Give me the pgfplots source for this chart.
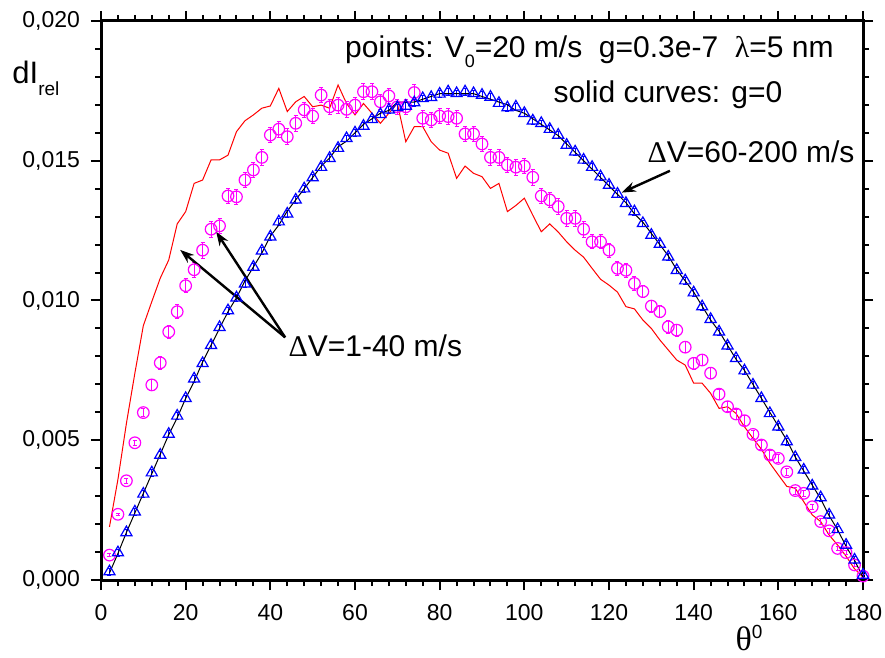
\documentclass[border=0pt]{standalone}
\usepackage{fontspec}
\setmainfont{Liberation Sans}
\newfontfamily\grk{Liberation Serif}
\usepackage{pgfplots}
\pgfplotsset{compat=1.18}
\usepackage{pgfplotstable}
\usetikzlibrary{arrows.meta}

% theta in degrees; red: g=0, dV=1-40; circ: g=0.3e-7, dV=1-40;
% tri: g=0.3e-7, dV=60-200; blk: g=0, dV=60-200; err: error of circ
\pgfplotstableread{
x red circ tri blk err
2 0.0019 0.00089 0.0003 0.00025 0.00005
4 0.0036 0.00235 0.00098 0.00095 0.00005
6 0.0056 0.00355 0.0017 0.0017 0.0001
8 0.0074 0.00491 0.00244 0.0024 0.0001
10 0.0091 0.00599 0.00308 0.0031 0.00015
12 0.00996 0.00698 0.00384 0.0038 0.00018
14 0.0108 0.00777 0.00447 0.0045 0.00022
16 0.01145 0.00888 0.00522 0.0052 0.00022
18 0.01274 0.0096 0.00587 0.0058 0.00025
20 0.01318 0.01053 0.0065 0.0065 0.00025
22 0.01419 0.0111 0.0072 0.0071 0.00028
24 0.01431 0.0118 0.00775 0.0078 0.00028
26 0.01503 0.01255 0.0084 0.0084 0.00028
28 0.01503 0.01267 0.00904 0.0090 0.00028
30 0.0152 0.01374 0.00964 0.0096 0.00028
32 0.01604 0.01371 0.0101 0.0101 0.00028
34 0.01643 0.01431 0.0106 0.0107 0.00028
36 0.01664 0.01467 0.0112 0.0112 0.00028
38 0.01688 0.01512 0.01178 0.0117 0.00028
40 0.01696 0.01592 0.01228 0.0123 0.00028
42 0.01759 0.01613 0.01282 0.0127 0.00028
44 0.01676 0.01586 0.0131 0.0132 0.00028
46 0.01711 0.01634 0.0136 0.0136 0.00028
48 0.0173 0.01682 0.0140 0.0140 0.00028
50 0.01693 0.0166 0.0144 0.0144 0.00028
52 0.01699 0.01735 0.01477 0.0148 0.00028
54 0.01688 0.01693 0.01509 0.0151 0.00028
56 0.01771 0.01699 0.01545 0.0155 0.00028
58 0.01705 0.01684 0.0158 0.0157 0.00028
60 0.01664 0.01699 0.0160 0.0160 0.00028
62 0.01705 0.01747 0.01624 0.0163 0.00028
64 0.0167 0.01747 0.01648 0.0165 0.00028
66 0.01634 0.01711 0.01666 0.0167 0.00028
68 0.0167 0.01732 0.01682 0.0168 0.00028
70 0.01705 0.01693 0.01691 0.0171 0.00028
72 0.01568 0.01693 0.01696 0.0171 0.00028
74 0.01622 0.01744 0.01708 0.0171 0.00028
76 0.01622 0.01652 0.01723 0.0172 0.00028
78 0.01568 0.01646 0.01727 0.0173 0.00028
80 0.01538 0.0166 0.01739 0.0174 0.00028
82 0.01527 0.01658 0.01747 0.0174 0.00028
84 0.01437 0.01652 0.01741 0.0174 0.00028
86 0.01481 0.01596 0.01747 0.0174 0.00028
88 0.01455 0.01596 0.01741 0.0174 0.00028
90 0.01443 0.0156 0.01735 0.0173 0.00028
92 0.01401 0.01512 0.01728 0.0172 0.00028
94 0.01419 0.01512 0.01706 0.0171 0.00028
96 0.01318 0.01485 0.0169 0.0170 0.00028
98 0.0134 0.01477 0.01693 0.0168 0.00028
100 0.01366 0.01481 0.0167 0.0167 0.00028
102 0.01305 0.01441 0.01643 0.0165 0.00028
104 0.01246 0.01374 0.01634 0.0163 0.00028
106 0.01274 0.0136 0.01613 0.0161 0.00028
108 0.01245 0.01336 0.01592 0.0159 0.00028
110 0.0121 0.01294 0.01556 0.0156 0.00028
112 0.0118 0.01294 0.01532 0.0153 0.00028
114 0.01155 0.01255 0.01503 0.0150 0.00028
116 0.01115 0.0121 0.01477 0.0147 0.00025
118 0.01076 0.0121 0.01443 0.0144 0.00025
120 0.01055 0.0118 0.01413 0.0141 0.00025
122 0.0103 0.01115 0.01381 0.0138 0.00025
124 0.00978 0.01108 0.01348 0.0135 0.00025
126 0.0097 0.01061 0.01318 0.0131 0.00025
128 0.0093 0.01032 0.01276 0.0128 0.00022
130 0.009 0.0098 0.01234 0.0124 0.00022
132 0.00859 0.0096 0.01202 0.0120 0.00022
134 0.00823 0.00906 0.01156 0.0116 0.00022
136 0.00787 0.00894 0.01108 0.0111 0.00022
138 0.00769 0.00833 0.01071 0.0107 0.0002
140 0.00704 0.00775 0.01028 0.0103 0.0002
142 0.00704 0.00787 0.00978 0.0098 0.0002
144 0.00668 0.0074 0.00933 0.0093 0.0002
146 0.00614 0.00665 0.00888 0.0089 0.00018
148 0.0062 0.0062 0.00838 0.0084 0.00018
150 0.00596 0.00594 0.00793 0.0079 0.00018
152 0.00548 0.0057 0.00749 0.0075 0.00018
154 0.00507 0.00521 0.00698 0.0070 0.00015
156 0.00468 0.00483 0.0065 0.0065 0.00015
158 0.00418 0.00447 0.00596 0.0060 0.00015
160 0.00376 0.00435 0.00548 0.0055 0.00015
162 0.00335 0.00387 0.00495 0.0050 0.00012
164 0.00328 0.0032 0.00439 0.0044 0.00012
166 0.0028 0.0031 0.00394 0.0039 0.00012
168 0.00233 0.00262 0.00337 0.0034 0.0001
170 0.00209 0.00209 0.00295 0.0029 0.0001
172 0.00161 0.00176 0.00233 0.0023 0.0001
174 0.00125 0.00113 0.00181 0.0018 0.00008
176 0.00085 0.00098 0.00125 0.0012 0.00008
178 0.0004 0.00054 0.00072 0.0007 0.00005
180 0.0001 0.00014 0.00018 0.0001 0.00005
}\data

\begin{document}
\begin{tikzpicture}
\begin{axis}[
  name=ax,
  scale only axis,
  width=381pt, height=279.5pt,
  xmin=0, xmax=180, ymin=0, ymax=0.02,
  xtick={0,20,...,180}, minor x tick num=4,
  ytick={0,0.005,0.01,0.015,0.02}, minor y tick num=4,
  tick align=outside,
  major tick length=5pt, minor tick length=3pt,
  every tick/.style={black, line width=1pt},
  axis line style={line width=1.5pt},
  scaled y ticks=false,
  yticklabel style={xshift=-2pt, /pgf/number format/.cd, fixed, fixed zerofill, precision=3, use comma},
  xticklabel style={yshift=-3.5pt},
  /pgf/number format/assume math mode=true,
  tick label style={font=\fontsize{11.5}{13}\selectfont},
  clip=false,
]
\addplot[red, line width=0.5pt] table[x=x, y=red] {\data};
\addplot[only marks, mark=o, color={rgb,255:red,255;green,0;blue,255}, mark size=2.9pt,
  mark options={line width=0.6pt},
  error bars/.cd, y dir=both, y explicit,
  error bar style={line width=0.4pt},
  error mark options={rotate=90, mark size=1pt, line width=0.4pt}]
  table[x=x, y=circ, y error=err] {\data};
\addplot[only marks, mark=triangle, blue, mark size=3.2pt,
  mark options={line width=0.6pt},
  error bars/.cd, y dir=both, y fixed=0.00012,
  error bar style={line width=0.4pt},
  error mark options={rotate=90, mark size=1pt, line width=0.4pt}]
  table[x=x, y=tri] {\data};
\addplot[black, line width=0.5pt] table[x=x, y=blk] {\data};

% annotations
\begin{scope}[every node/.style={anchor=base west, inner sep=0pt, font=\fontsize{15}{18}\selectfont}]
\node at (axis cs:57.6,0.01871) {points: V\raisebox{-5pt}{\fontsize{9}{10}\selectfont 0}=20 m/s\ \ g=0.3e-7\ \ {\grk λ}=5 nm};
\node at (axis cs:106.8,0.01707) {solid curves: g=0};
\node at (axis cs:129.0,0.01492) {{\grk Δ}V=60-200 m/s};
\node at (axis cs:44.2,0.00801) {{\grk Δ}V=1-40 m/s};
\node at (axis cs:-21,0.01778) {\fontsize{15.5}{18}\selectfont dI\raisebox{-6pt}{\fontsize{9.5}{10}\selectfont rel}};
\node at (axis cs:149.8,-0.00252) {{\grk\fontsize{17}{20}\selectfont θ}\raisebox{6pt}{\fontsize{9.5}{10}\selectfont 0}};
\end{scope}
\begin{scope}[line width=1.2pt, -{Stealth[length=7pt, width=5pt]}]
\draw (axis cs:43.5,0.00868) -- (axis cs:18.7,0.01181);
\draw (axis cs:43.5,0.00868) -- (axis cs:27.2,0.01246);
\draw (axis cs:134.4,0.01464) -- (axis cs:123.0,0.01386);
\end{scope}
\end{axis}
\pgfresetboundingbox
\path[use as bounding box] ([xshift=-50.5pt,yshift=-38.5pt]ax.south west) rectangle ([xshift=11pt,yshift=10.5pt]ax.north east);
\end{tikzpicture}
\end{document}
